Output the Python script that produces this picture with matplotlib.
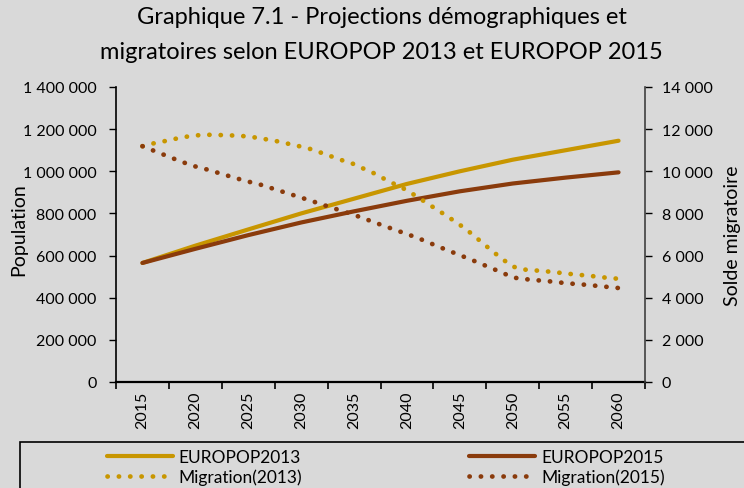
import matplotlib.pyplot as plt
from matplotlib.patches import Rectangle
from matplotlib.ticker import FuncFormatter, FixedLocator

# population projections, read every 5 years
pop_years = [2015, 2020, 2025, 2030, 2035, 2040, 2045, 2050, 2055, 2060]
europop2013 = [565000, 647000, 724000, 800000, 870000, 940000, 1000000, 1055000, 1100000, 1145000]
europop2015 = [565000, 632000, 697000, 757000, 810000, 860000, 905000, 942000, 970000, 995000]

# net migration, yearly
mig_years = list(range(2015, 2061))
migration2013 = [11190, 11320, 11420, 11530, 11630, 11700, 11735, 11725, 11710, 11690,
                 11650, 11580, 11490, 11400, 11280, 11170, 11040, 10860, 10680, 10500,
                 10340, 10100, 9880, 9600, 9350, 9100, 8780, 8450, 8130, 7800,
                 7460, 7080, 6660, 6240, 5840, 5480, 5340, 5300, 5260, 5210,
                 5150, 5100, 5050, 5000, 4940, 4900]
migration2015 = [11190, 10990, 10790, 10590, 10400, 10230, 10100, 9950, 9800, 9650,
                 9510, 9390, 9230, 9070, 8910, 8750, 8590, 8420, 8260, 8090,
                 7930, 7750, 7560, 7380, 7200, 7020, 6840, 6630, 6420, 6220,
                 6020, 5820, 5610, 5400, 5190, 4960, 4890, 4840, 4800, 4750,
                 4690, 4650, 4610, 4560, 4510, 4460]

label_years = [2015, 2020, 2025, 2030, 2035, 2040, 2045, 2050, 2055, 2060]

GOLD = '#C89600'
BROWN = '#8A3B0C'
BG = '#D9D9D9'
FONT = 'Lato'

plt.rcParams['font.family'] = [FONT, 'DejaVu Sans']

fig = plt.figure(figsize=(7.44, 4.89), dpi=100, facecolor=BG)
ax = fig.add_axes([116 / 744, 1 - 383 / 489, 529 / 744, 295 / 489])
ax.set_facecolor(BG)
ax2 = ax.twinx()

l1, = ax.plot(pop_years, europop2013, color=GOLD, lw=3, solid_capstyle='round', label='EUROPOP2013')
l2, = ax.plot(pop_years, europop2015, color=BROWN, lw=3, solid_capstyle='round', label='EUROPOP2015')
dots = (0, (0.05, 2.35))
l3, = ax2.plot(mig_years, migration2013, color=GOLD, lw=3.4, ls=dots, dash_capstyle='round',
               label='Migration(2013)')
l4, = ax2.plot(mig_years, migration2015, color=BROWN, lw=3.4, ls=dots, dash_capstyle='round',
               label='Migration(2015)')

ax.set_xlim(2012.5, 2062.5)
ax.set_ylim(0, 1400000)
ax2.set_ylim(0, 14000)

spaced = FuncFormatter(lambda v, p: f'{int(round(v)):,}'.replace(',', ' '))
ax.set_yticks(range(0, 1400001, 200000))
ax.yaxis.set_major_formatter(spaced)
ax2.set_yticks(range(0, 14001, 2000))
ax2.yaxis.set_major_formatter(spaced)

ax.set_xticks(label_years)
ax.set_xticklabels([str(y) for y in label_years], rotation=90)
ax.xaxis.set_minor_locator(FixedLocator([2012.5 + 5 * i for i in range(11)]))
ax.tick_params(axis='x', which='major', length=0, pad=6, labelsize=11.5)
ax.tick_params(axis='x', which='minor', length=5, width=1.2, direction='out')
ax.tick_params(axis='y', length=5, width=1, direction='out', labelsize=11.5, pad=9)
ax2.tick_params(axis='y', length=5, width=1, direction='out', labelsize=11.5, pad=7)

for a in (ax, ax2):
    a.spines['top'].set_visible(False)
ax.spines['right'].set_visible(False)
ax.spines['left'].set_linewidth(1.2)
ax.spines['bottom'].set_linewidth(1.6)
ax2.spines['left'].set_visible(False)
ax2.spines['bottom'].set_visible(False)
ax2.spines['right'].set_color('#404040')
ax2.spines['right'].set_linewidth(1.2)

ax.set_ylabel('Population', fontsize=14)
ax.yaxis.set_label_coords((27 - 116) / 529, 0.52)
ax2.set_ylabel('Solde migratoire', fontsize=14)
ax2.yaxis.set_label_coords((724 - 116) / 529, 0.5)

fig.text(0.513, 0.985, 'Graphique 7.1 - Projections démographiques et\n'
         'migratoires selon EUROPOP 2013 et EUROPOP 2015',
         ha='center', va='top', fontsize=17, linespacing=1.8)

fig.patches.append(Rectangle((20 / 744, -0.05), 0.99, (489 - 443) / 489 + 0.05,
                             transform=fig.transFigure, facecolor='none',
                             edgecolor='black', lw=1.2))
fig.legend([l1, l3, l2, l4], [l.get_label() for l in (l1, l3, l2, l4)],
           ncol=2, loc='upper left', bbox_to_anchor=(98 / 744, 1 - 441 / 489),
           frameon=False, fontsize=12.5, handlelength=3.8, handletextpad=0.35,
           columnspacing=9.6, labelspacing=0.2, borderpad=0)

fig.savefig('out.png', dpi=100, facecolor=BG)
